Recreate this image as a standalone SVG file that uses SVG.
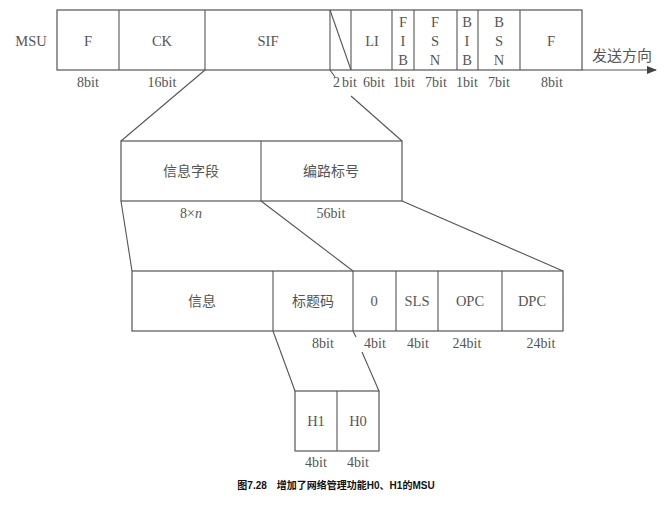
<svg xmlns="http://www.w3.org/2000/svg" width="669" height="506" viewBox="0 0 669 506">
<defs>
<style>
.b{fill:none;stroke:#555;stroke-width:1.2}
.l{stroke:#555;stroke-width:1.1;fill:none}
.t{font-family:"Liberation Serif",serif;font-size:14.5px;fill:#555;text-anchor:middle}
.s{font-family:"Liberation Serif",serif;font-size:14px;fill:#555;text-anchor:middle}
.c{font-family:"Liberation Serif","Noto Sans CJK SC",sans-serif;font-size:14px;fill:#555;text-anchor:middle}
.cap{font-family:"Liberation Sans","Noto Sans CJK SC",sans-serif;font-size:10px;font-weight:bold;fill:#111;text-anchor:middle}
</style>
<marker id="ar" markerWidth="10" markerHeight="8" refX="9" refY="4" orient="auto" markerUnits="userSpaceOnUse">
<path d="M0,0 L10,4 L0,8 Z" fill="#444"/>
</marker>
</defs>
<rect width="669" height="506" fill="#fff"/>
<text class="t" x="31" y="46">MSU</text>
<g id="msu">
<rect class="b" x="57" y="10" width="525" height="60"/>
<line class="l" x1="119" y1="10" x2="119" y2="70"/>
<line class="l" x1="205" y1="10" x2="205" y2="70"/>
<line class="l" x1="330" y1="10" x2="330" y2="70"/>
<line class="l" x1="330" y1="10" x2="351" y2="70"/>
<line class="l" x1="351" y1="10" x2="351" y2="70"/>
<line class="l" x1="392" y1="10" x2="392" y2="70"/>
<line class="l" x1="414" y1="10" x2="414" y2="70"/>
<line class="l" x1="457" y1="10" x2="457" y2="70"/>
<line class="l" x1="478" y1="10" x2="478" y2="70"/>
<line class="l" x1="520" y1="10" x2="520" y2="70"/>
<text class="t" x="88" y="46">F</text>
<text class="t" x="162" y="46">CK</text>
<text class="t" x="268" y="46">SIF</text>
<text class="t" x="372" y="46">LI</text>
<text class="t" x="403" y="27">F</text>
<text class="t" x="403" y="46">I</text>
<text class="t" x="403" y="65">B</text>
<text class="t" x="435" y="27">F</text>
<text class="t" x="435" y="46">S</text>
<text class="t" x="435" y="65">N</text>
<text class="t" x="467" y="27">B</text>
<text class="t" x="467" y="46">I</text>
<text class="t" x="467" y="65">B</text>
<text class="t" x="499" y="27">B</text>
<text class="t" x="499" y="46">S</text>
<text class="t" x="499" y="65">N</text>
<text class="t" x="551" y="46">F</text>
<text class="s" x="88" y="87">8bit</text>
<text class="s" x="162" y="87">16bit</text>
<text class="s" x="345" y="87">2<tspan dx="2">bit</tspan></text>
<text class="s" x="374" y="87">6bit</text>
<text class="s" x="404" y="87">1bit</text>
<text class="s" x="436" y="87">7bit</text>
<text class="s" x="467" y="87">1bit</text>
<text class="s" x="499" y="87">7bit</text>
<text class="s" x="552" y="87">8bit</text>
<text class="c" x="622" y="61" style="font-size:15px">发送方向</text>
</g>
<g id="sif">
<rect class="b" x="121" y="141" width="281" height="60"/>
<line class="l" x1="261" y1="141" x2="261" y2="201"/>
<text class="c" x="191" y="176">信息字段</text>
<text class="c" x="331" y="176">编路标号</text>
<text class="s" x="191" y="218">8×<tspan font-style="italic">n</tspan></text>
<text class="s" x="331" y="218">56bit</text>
</g>
<g id="sif-detail">
<rect class="b" x="132" y="271" width="431" height="60"/>
<line class="l" x1="273" y1="271" x2="273" y2="331"/>
<line class="l" x1="353" y1="271" x2="353" y2="331"/>
<line class="l" x1="396" y1="271" x2="396" y2="331"/>
<line class="l" x1="438" y1="271" x2="438" y2="331"/>
<line class="l" x1="502" y1="271" x2="502" y2="331"/>
<text class="c" x="202" y="306">信息</text>
<text class="c" x="313" y="306">标题码</text>
<text class="t" x="374" y="306">0</text>
<text class="t" x="417" y="306">SLS</text>
<text class="t" x="470" y="306">OPC</text>
<text class="t" x="532" y="306">DPC</text>
<text class="s" x="323" y="348">8bit</text>
<text class="s" x="375" y="348">4bit</text>
<text class="s" x="418" y="348">4bit</text>
<text class="s" x="467" y="348">24bit</text>
<text class="s" x="541" y="348">24bit</text>
</g>
<g id="h">
<rect class="b" x="295" y="391" width="84" height="60"/>
<line class="l" x1="337" y1="391" x2="337" y2="451"/>
<text class="t" x="316" y="426">H1</text>
<text class="t" x="358" y="426">H0</text>
<text class="s" x="316" y="467">4bit</text>
<text class="s" x="358" y="467">4bit</text>
</g>
<g id="connectors">
<line class="l" x1="582" y1="70" x2="656" y2="70" marker-end="url(#ar)"/>
<line class="l" x1="205" y1="70" x2="121" y2="141"/>
<line class="l" x1="330" y1="70" x2="335" y2="77"/>
<line class="l" x1="351" y1="96" x2="402" y2="141"/>
<line class="l" x1="121" y1="201" x2="132" y2="271"/>
<line class="l" x1="261" y1="201" x2="353" y2="271"/>
<line class="l" x1="402" y1="201" x2="563" y2="271"/>
<line class="l" x1="273" y1="331" x2="295" y2="391"/>
<line class="l" x1="353" y1="331" x2="356" y2="337"/>
<line class="l" x1="362" y1="352" x2="379" y2="391"/>
</g>
<text class="cap" x="336" y="489">图7.28　增加了网络管理功能H0、H1的MSU</text>
</svg>
